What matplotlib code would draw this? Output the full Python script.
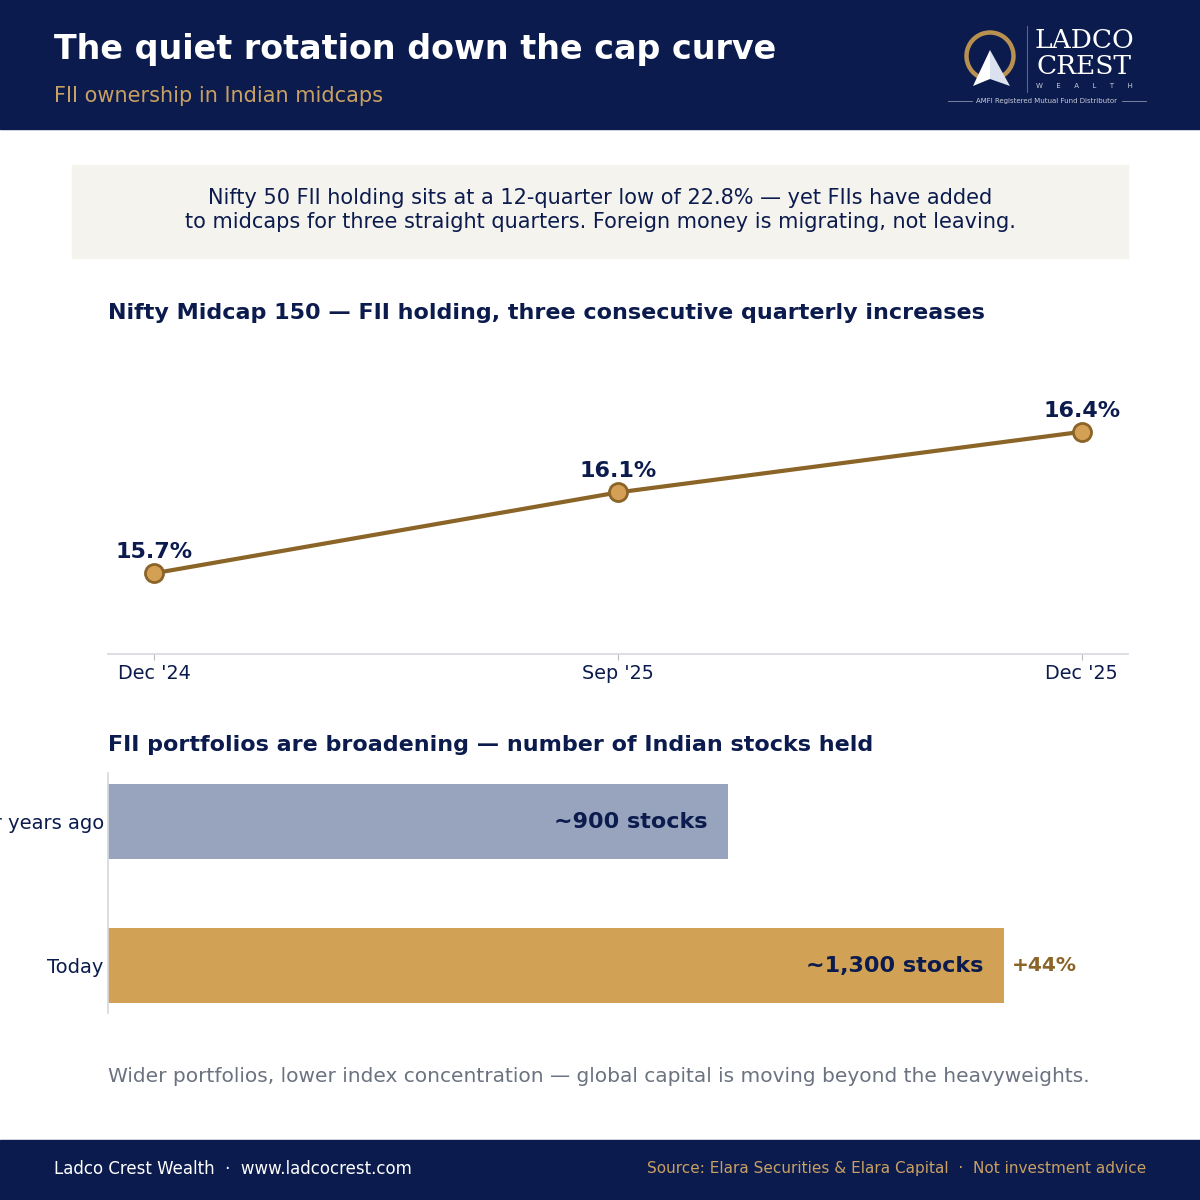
import matplotlib
matplotlib.use("Agg")
import matplotlib.pyplot as plt
from matplotlib.patches import Rectangle, Arc, Polygon
from matplotlib.lines import Line2D

# ---- data ----
quarters = ["Dec '24", "Sep '25", "Dec '25"]
fii_holding = [15.7, 16.1, 16.4]
bar_categories = ["Four years ago", "Today"]
stocks_held = [900, 1300]
bar_labels = ["~900 stocks", "~1,300 stocks"]
growth_label = "+44%"

NAVY = "#0B1B4D"
GOLD = "#C9A063"
BROWN = "#8B6428"
MARKER = "#D4A055"
BAR_GRAY = "#98A4BE"
BAR_GOLD = "#D1A155"

W = H = 1200
fig = plt.figure(figsize=(12, 12), dpi=100)
fig.patch.set_facecolor("white")

def fx(x): return x / W
def fy(y): return 1 - y / H

def rect(x0, y0, x1, y1, color):
    fig.patches.append(Rectangle((fx(x0), fy(y1)), fx(x1) - fx(x0), fy(y0) - fy(y1),
                                 transform=fig.transFigure, color=color, zorder=0))

# header
rect(0, 0, 1200, 129, NAVY)
fig.text(fx(54), fy(50), "The quiet rotation down the cap curve", color="white",
         fontsize=24, fontweight="bold", va="center", ha="left")
fig.text(fx(54), fy(96), "FII ownership in Indian midcaps", color=GOLD,
         fontsize=15, va="center", ha="left")

# logo
fig.patches.append(Arc((fx(990), fy(56)), 47 / W, 47 / H, theta1=-62, theta2=242,
                       transform=fig.transFigure, edgecolor="#B8904F", linewidth=3.2, zorder=2))
fig.patches.append(Polygon([(fx(973), fy(86)), (fx(990), fy(50)), (fx(990), fy(79))],
                           closed=True, transform=fig.transFigure,
                           facecolor="white", edgecolor="none", zorder=3))
fig.patches.append(Polygon([(fx(990), fy(50)), (fx(1010), fy(86)), (fx(990), fy(79))],
                           closed=True, transform=fig.transFigure,
                           facecolor="#DCE1F0", edgecolor="none", zorder=3))
fig.lines.append(Line2D([fx(1027), fx(1027)], [fy(26), fy(92)], transform=fig.transFigure,
                        color="#5A6585", linewidth=0.8))
fig.text(fx(1084), fy(40), "LADCO", color="white", fontsize=19, family="DejaVu Serif",
         ha="center", va="center", fontweight="light")
fig.text(fx(1084), fy(67), "CREST", color="white", fontsize=19, family="DejaVu Serif",
         ha="center", va="center", fontweight="light")
fig.text(fx(1084), fy(86), "W      E      A      L      T      H", color="#C8CCD8", fontsize=5,
         ha="center", va="center")
fig.text(fx(1047), fy(101), "AMFI Registered Mutual Fund Distributor", color="#C8CCD8",
         fontsize=5, ha="center", va="center")
fig.lines.append(Line2D([fx(948), fx(972)], [fy(101), fy(101)], transform=fig.transFigure,
                        color="#8A93AD", linewidth=0.6))
fig.lines.append(Line2D([fx(1122), fx(1146)], [fy(101), fy(101)], transform=fig.transFigure,
                        color="#8A93AD", linewidth=0.6))

# callout
rect(72, 165, 1128, 258, "#F5F3EE")
fig.text(fx(600), fy(210),
         "Nifty 50 FII holding sits at a 12-quarter low of 22.8% — yet FIIs have added\n"
         "to midcaps for three straight quarters. Foreign money is migrating, not leaving.",
         color=NAVY, fontsize=15, ha="center", va="center", linespacing=1.2)

# line chart
fig.text(fx(108), fy(313), "Nifty Midcap 150 — FII holding, three consecutive quarterly increases",
         color=NAVY, fontsize=16, fontweight="bold", ha="left", va="center")
ax1 = fig.add_axes([fx(108), fy(654), fx(1128) - fx(108), fy(351) - fy(654)])
xs = list(range(len(quarters)))
ax1.plot(xs, fii_holding, color=BROWN, linewidth=3, marker="o", markersize=13,
         markerfacecolor=MARKER, markeredgecolor=BROWN, markeredgewidth=2, zorder=3)
for x, v in zip(xs, fii_holding):
    ax1.annotate(f"{v}%", (x, v), xytext=(0, 8), textcoords="offset points",
                 ha="center", va="bottom", fontsize=16, fontweight="bold", color=NAVY)
ax1.set_xlim(-0.1, 2.1)
ax1.set_ylim(15.3, 16.8)
ax1.set_xticks(xs)
ax1.set_xticklabels(quarters, fontsize=13.8, color=NAVY)
ax1.tick_params(axis="x", length=4, color="#BBBBBB", pad=3)
ax1.set_yticks([])
for s in ["top", "right", "left"]:
    ax1.spines[s].set_visible(False)
ax1.spines["bottom"].set_color("#D5D8DE")
ax1.spines["bottom"].set_linewidth(1.2)
ax1.patch.set_alpha(0)

# bar chart
fig.text(fx(108), fy(745), "FII portfolios are broadening — number of Indian stocks held",
         color=NAVY, fontsize=16, fontweight="bold", ha="left", va="center")
ax2 = fig.add_axes([fx(108), fy(1013), fx(1128) - fx(108), fy(773) - fy(1013)])
ys = list(range(len(bar_categories)))
ax2.barh(ys, stocks_held, height=0.52, color=[BAR_GRAY, BAR_GOLD])
ax2.set_xlim(0, 1480)
ax2.set_ylim(1.33, -0.34)
for y, v, lab in zip(ys, stocks_held, bar_labels):
    ax2.annotate(lab, (v, y), xytext=(-15, 0), textcoords="offset points",
                 ha="right", va="center", fontsize=16, fontweight="bold", color=NAVY)
ax2.annotate(growth_label, (stocks_held[-1], ys[-1]), xytext=(6, 0), textcoords="offset points",
             ha="left", va="center", fontsize=14.5, fontweight="bold", color=BROWN)
ax2.set_yticks(ys)
ax2.set_yticklabels(bar_categories, fontsize=14, color=NAVY)
ax2.tick_params(axis="y", length=0, pad=3)
ax2.set_xticks([])
for s in ["top", "right", "bottom"]:
    ax2.spines[s].set_visible(False)
ax2.spines["left"].set_color("#D5D8DE")
ax2.spines["left"].set_linewidth(1.2)
ax2.patch.set_alpha(0)

# note
fig.text(fx(108), fy(1076),
         "Wider portfolios, lower index concentration — global capital is moving beyond the heavyweights.",
         color="#6B7280", fontsize=14.5, ha="left", va="center")

# footer
rect(0, 1140, 1200, 1200, NAVY)
fig.text(fx(54), fy(1169), "Ladco Crest Wealth  ·  www.ladcocrest.com", color="white",
         fontsize=12, ha="left", va="center")
fig.text(fx(1146), fy(1169), "Source: Elara Securities & Elara Capital  ·  Not investment advice",
         color=GOLD, fontsize=11, ha="right", va="center")

fig.savefig("out.png", dpi=100, facecolor=fig.get_facecolor())
